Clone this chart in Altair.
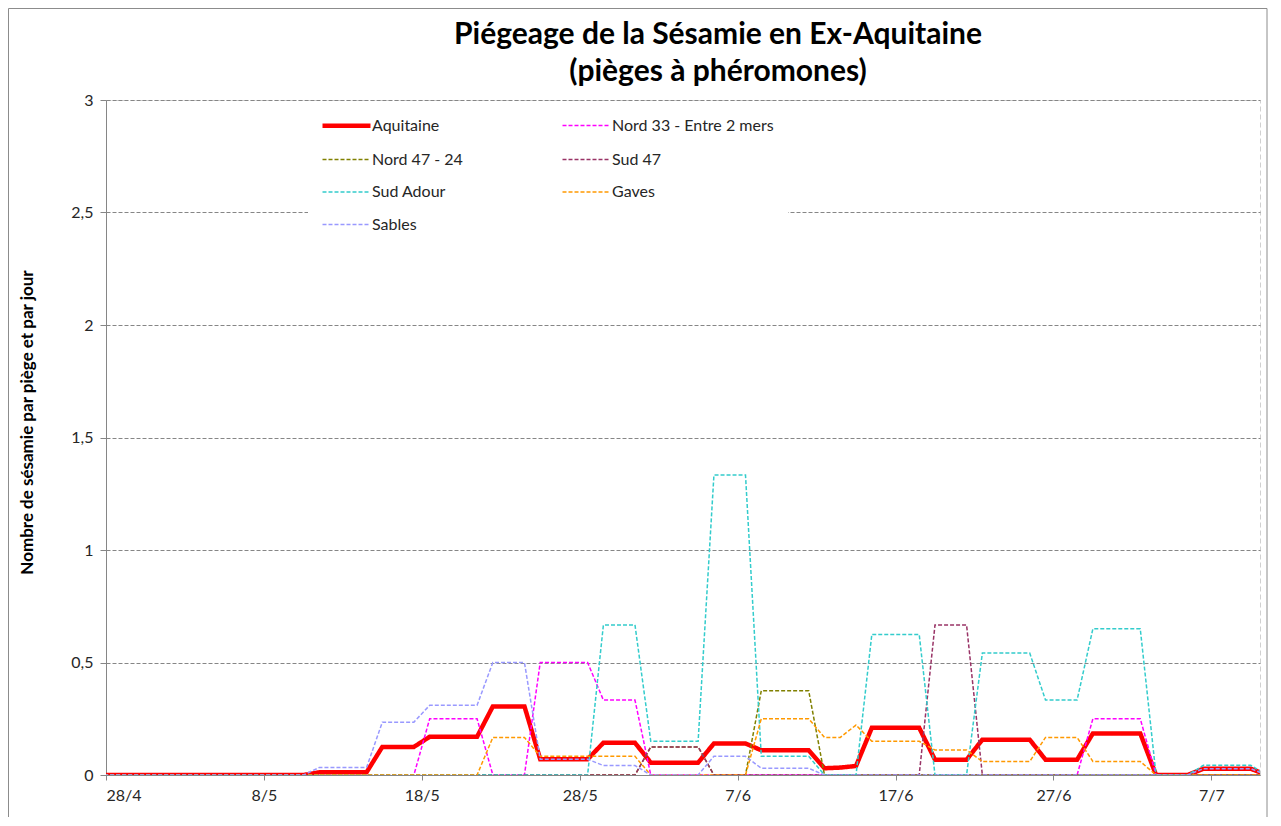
import altair as alt
import pandas as pd

# ---- data (daily mean catch per trap) ----
start_date = "2016-04-27"
n_days = 75

series_names = ["Aquitaine", "Nord 33 - Entre 2 mers", "Nord 47 - 24", "Sud 47",
                "Sud Adour", "Gaves", "Sables"]
series_colors = ["#FF0000", "#FF00FF", "#808000", "#993366", "#33CCCC", "#FF9900", "#9999FF"]
# legend is laid out column by column: this order gives the reference's rows
legend_order = ["Aquitaine", "Nord 47 - 24", "Sud Adour", "Sables",
                "Nord 33 - Entre 2 mers", "Sud 47", "Gaves"]

aquitaine = [
    0, 0, 0, 0, 0, 0, 0, 0, 0, 0, 0, 0, 0, 0,
    0.012, 0.012, 0.012, 0.012,
    0.125, 0.125, 0.125,
    0.17, 0.17, 0.17, 0.17,
    0.305, 0.305, 0.305,
    0.07, 0.07, 0.07, 0.07,
    0.143, 0.143, 0.143,
    0.055, 0.055, 0.055, 0.055,
    0.14, 0.14, 0.14,
    0.11, 0.11, 0.11, 0.11,
    0.03, 0.033, 0.04,
    0.21, 0.21, 0.21, 0.21,
    0.068, 0.068, 0.068,
    0.157, 0.157, 0.157, 0.157,
    0.068, 0.068, 0.068,
    0.185, 0.185, 0.185, 0.185,
    0, 0, 0,
    0.028, 0.028, 0.028, 0.028,
    0,
]

nord33 = [
    0, 0, 0, 0, 0, 0, 0, 0, 0, 0, 0, 0, 0, 0, 0, 0, 0, 0, 0, 0, 0,
    0.25, 0.25, 0.25, 0.25,
    0, 0, 0,
    0.5, 0.5, 0.5, 0.5,
    0.333, 0.333, 0.333,
    0, 0, 0, 0, 0, 0, 0, 0, 0, 0, 0, 0, 0, 0, 0, 0, 0, 0, 0, 0, 0, 0, 0, 0, 0, 0, 0, 0,
    0.25, 0.25, 0.25, 0.25,
    0, 0, 0, 0, 0, 0, 0, 0,
]

nord47 = [
    0, 0, 0, 0, 0, 0, 0, 0, 0, 0, 0, 0, 0, 0, 0, 0, 0, 0, 0, 0,
    0, 0, 0, 0, 0, 0, 0, 0, 0, 0, 0, 0, 0, 0, 0,
    0.125, 0.125, 0.125, 0.125,
    0, 0, 0,
    0.375, 0.375, 0.375, 0.375,
    0, 0, 0, 0, 0, 0, 0, 0, 0, 0, 0, 0, 0, 0, 0, 0, 0, 0, 0, 0,
    0, 0, 0, 0, 0, 0, 0, 0, 0,
]

sud47 = [
    0, 0, 0, 0, 0, 0, 0, 0, 0, 0, 0, 0, 0, 0, 0, 0, 0, 0, 0, 0,
    0, 0, 0, 0, 0, 0, 0, 0, 0, 0, 0, 0, 0, 0, 0,
    0.125, 0.125, 0.125, 0.125,
    0, 0, 0, 0, 0, 0, 0, 0, 0, 0, 0, 0, 0, 0,
    0.667, 0.667, 0.667,
    0, 0, 0, 0, 0, 0, 0, 0, 0, 0, 0, 0, 0, 0, 0, 0, 0, 0, 0,
]

sud_adour = [
    0, 0, 0, 0, 0, 0, 0, 0, 0, 0, 0, 0, 0, 0, 0, 0,
    0, 0, 0, 0, 0, 0, 0, 0, 0, 0, 0, 0, 0, 0, 0, 0,
    0.667, 0.667, 0.667,
    0.15, 0.15, 0.15, 0.15,
    1.333, 1.333, 1.333,
    0.083, 0.083, 0.083, 0.083,
    0, 0, 0,
    0.625, 0.625, 0.625, 0.625,
    0, 0, 0,
    0.542, 0.542, 0.542, 0.542,
    0.333, 0.333, 0.333,
    0.65, 0.65, 0.65, 0.65,
    0, 0, 0,
    0.043, 0.043, 0.043, 0.043,
    0,
]

gaves = [
    0, 0, 0, 0, 0, 0, 0, 0, 0, 0, 0, 0, 0, 0, 0, 0, 0, 0, 0, 0, 0, 0, 0, 0, 0,
    0.167, 0.167, 0.167,
    0.083, 0.083, 0.083, 0.083, 0.083, 0.083, 0.083,
    0, 0, 0, 0, 0, 0, 0,
    0.25, 0.25, 0.25, 0.25,
    0.167, 0.167,
    0.222,
    0.15, 0.15, 0.15, 0.15,
    0.111, 0.111, 0.111,
    0.06, 0.06, 0.06, 0.06,
    0.167, 0.167, 0.167,
    0.06, 0.06, 0.06, 0.06,
    0, 0, 0, 0, 0, 0, 0, 0,
]

sables = [
    0, 0, 0, 0, 0, 0, 0, 0, 0, 0, 0, 0, 0, 0,
    0.033, 0.033, 0.033, 0.033,
    0.235, 0.235, 0.235,
    0.31, 0.31, 0.31, 0.31,
    0.5, 0.5, 0.5,
    0.07, 0.07, 0.07, 0.07,
    0.042, 0.042, 0.042,
    0, 0, 0, 0,
    0.083, 0.083, 0.083,
    0.03, 0.03, 0.03, 0.03,
    0, 0, 0, 0, 0, 0, 0, 0, 0, 0, 0, 0, 0, 0, 0, 0, 0, 0, 0, 0, 0, 0, 0, 0,
    0.028, 0.028, 0.028, 0.028,
    0,
]

y_ticks = [0, 0.5, 1, 1.5, 2, 2.5, 3]
x_tick_days = [(4, 28), (5, 8), (5, 18), (5, 28), (6, 7), (6, 17), (6, 27), (7, 7)]

all_values = [aquitaine, nord33, nord47, sud47, sud_adour, gaves, sables]

dates = pd.date_range(start_date, periods=n_days, freq="D") + pd.Timedelta(hours=12)
rows = []
for name, vals in zip(series_names, all_values):
    for d, v in zip(dates, vals):
        rows.append({"date": d.strftime("%Y-%m-%dT%H:%M:%SZ"), "serie": name, "value": v})
df = pd.DataFrame(rows)

color_of = dict(zip(series_names, series_colors))
dom = legend_order
color_range = [color_of[s] for s in dom]
dash_range = [[1, 0] if s == "Aquitaine" else [4, 2] for s in dom]
width_range = [4.5 if s == "Aquitaine" else 1.5 for s in dom]

FONT = "Lato"
GRID = "#868686"
TXT = "#262626"

legend = alt.Legend(
    title=None, orient="none", legendX=202, legendY=1, columns=2,
    symbolType="M-1.25,0H4.75", symbolSize=256, labelFont=FONT, labelFontSize=16,
    labelColor=TXT, labelOffset=29, columnPadding=96, rowPadding=15.5,
    fillColor="white", padding=14, labelLimit=400,
)

x_enc = alt.X(
    "date:T",
    scale=alt.Scale(
        type="utc",
        domain=[alt.DateTime(year=2016, month=4, date=28, utc=True),
                alt.DateTime(year=2016, month=7, date=10, hours=2, utc=True)],
    ),
    axis=alt.Axis(
        values=[alt.DateTime(year=2016, month=m, date=d, utc=True) for m, d in x_tick_days],
        format="%-d/%-m", title=None, grid=False, tickSize=5, tickColor=GRID,
        domainColor=GRID, labelFont=FONT, labelFontSize=16, labelColor=TXT,
        labelPadding=7,
    ),
)

y_enc = alt.Y(
    "value:Q",
    scale=alt.Scale(domain=[0, 3], nice=False),
    axis=alt.Axis(
        values=y_ticks,
        labelExpr="replace(format(datum.value, '.1~f'), '.', ',')",
        grid=True, gridColor=GRID, gridDash=[4, 2], gridWidth=1,
        tickColor=GRID, tickSize=6, domainColor=GRID,
        labelFont=FONT, labelFontSize=16, labelColor=TXT, labelPadding=7,
        title="Nombre de sésamie par piège et par jour",
        titleFont=FONT, titleFontSize=17, titleFontWeight="bold", titleColor="black",
        titleAngle=270, titleX=-79, titleY=322, titleAlign="center", titleBaseline="middle",
    ),
)

lines = alt.Chart(df).mark_line(clip=True, strokeJoin="miter").encode(
    x=x_enc,
    y=y_enc,
    color=alt.Color("serie:N", scale=alt.Scale(domain=dom, range=color_range),
                    legend=legend),
    strokeDash=alt.StrokeDash("serie:N",
                              scale=alt.Scale(domain=dom, range=dash_range),
                              legend=legend),
    strokeWidth=alt.StrokeWidth("serie:N",
                                scale=alt.Scale(type="ordinal", domain=dom,
                                                range=width_range),
                                legend=legend),
)

frame = alt.Chart(pd.DataFrame({"k": [0]})).mark_rect(
    fillOpacity=0, stroke="#8C8C8C", strokeWidth=1, clip=False
).encode(
    x=alt.value(-97.5), x2=alt.value(1161), y=alt.value(-91.5), y2=alt.value(760)
)

chart = alt.layer(lines, frame).properties(
    width=1154, height=675,
    autosize=alt.AutoSizeParams(type="none"),
    padding={"left": 98, "top": 92, "right": 8, "bottom": 42},
    background="white",
    title=alt.Title(
        ["Piégeage de la Sésamie en Ex-Aquitaine", "(pièges à phéromones)"],
        font=FONT, fontSize=30, fontWeight="bold", color="black",
        anchor="middle", frame="group", dx=35, dy=91, offset=12, lineHeight=37,
    ),
).configure_view(stroke="#D0D0D0", strokeDash=[5, 3], strokeWidth=1)

chart.save("out.html", embed_options={"renderer": "svg", "actions": False})
